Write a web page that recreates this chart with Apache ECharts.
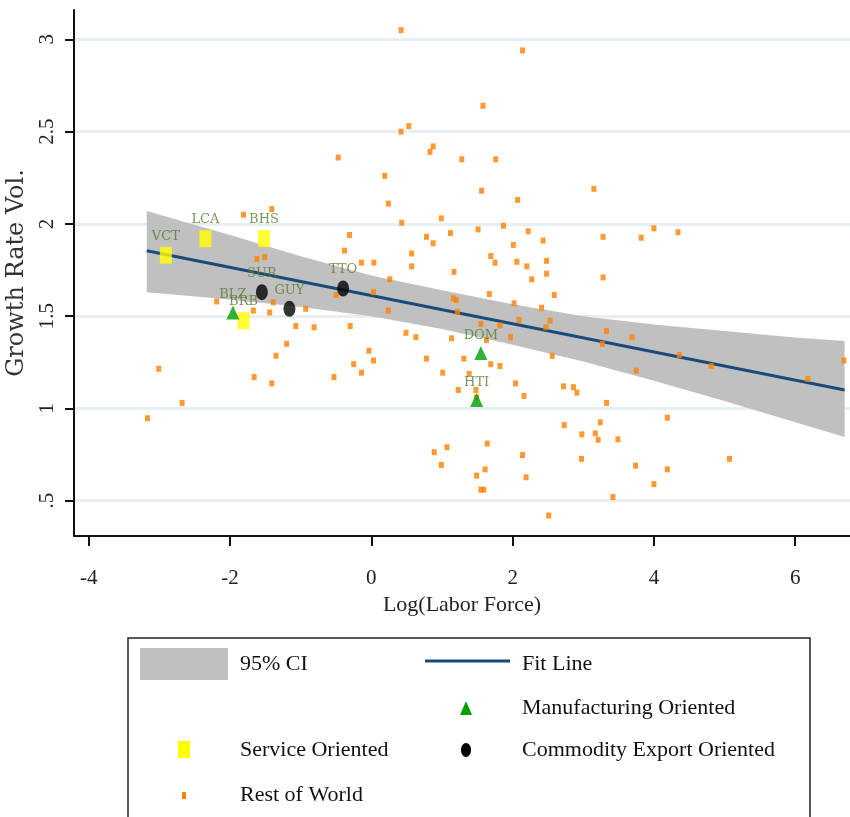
<!DOCTYPE html>
<html>
<head>
<meta charset="utf-8">
<title>Growth Rate Vol. vs Log(Labor Force)</title>
<script src="https://cdn.jsdelivr.net/npm/echarts@6.0.0/dist/echarts.min.js"></script>
<style>
  html, body { margin: 0; padding: 0; background: #fff; }
  #main { width: 850px; height: 817px; }
</style>
</head>
<body>
<div id="main"></div>
<script>
// axis ticks
const xTicks = [-4, -2, 0, 2, 4, 6];
const yTicks = [0.5, 1, 1.5, 2, 2.5, 3];

// rest of world (log labor force, growth rate vol.)
const restX = [-0.47, -1.41, -1.81, -0.31, -0.38, -1.62, -1.51, -0.14, 0.035, -2.19,
  -1.39, -1.67, -1.44, -0.93, -0.50, 0.03, -1.07, -0.81, -0.30, -1.20,
  -1.35, -0.035, 0.03, -0.25, -0.14, -0.53, -1.66, -1.41, -3.01, -2.68,
  -3.17, 0.42, 2.14, 1.58, 0.42, 0.53, 0.875, 0.83, 1.28, 1.76,
  0.19, 1.56, 3.15, 0.24, 2.07, 0.43, 0.99, 1.12, 1.51, 1.87,
  2.22, 2.43, 3.28, 3.82, 4.0, 0.78, 0.875, 2.01, 0.57, 0.57,
  1.69, 1.75, 2.06, 2.48, 2.20, 4.34, 0.26, 1.17, 2.27, 2.48,
  3.28, 1.16, 1.20, 1.67, 2.59, 0.24, 1.22, 2.02, 2.41, 1.55,
  1.82, 2.09, 2.47, 2.53, 3.33, 3.69, 3.27, 0.49, 0.63, 1.135,
  1.63, 1.97, 0.78, 1.31, 1.69, 1.82, 2.56, 1.01, 1.385, 3.75,
  1.23, 1.48, 2.04, 2.16, 2.72, 2.86, 2.91, 3.33, 4.19, 2.73,
  2.98, 3.17, 3.24, 3.21, 3.49, 0.89, 1.07, 1.64, 0.99, 2.14,
  2.975, 3.74, 4.19, 1.61, 1.49, 2.19, 1.55, 1.59, 4.0, 3.42,
  2.51, 4.36, 4.81, 6.18, 6.69, 5.07, 1.49];
const restY = [2.36, 2.08, 2.05, 1.94, 1.855, 1.81, 1.82, 1.79, 1.79, 1.58,
  1.575, 1.53, 1.52, 1.54, 1.615, 1.63, 1.447, 1.44, 1.447, 1.35,
  1.286, 1.313, 1.26, 1.24, 1.194, 1.17, 1.17, 1.136, 1.215, 1.03,
  0.947, 3.05, 2.94, 2.64, 2.50, 2.53, 2.42, 2.39, 2.35, 2.35,
  2.26, 2.18, 2.19, 2.11, 2.13, 2.006, 2.03, 1.95, 1.97, 1.99,
  1.96, 1.91, 1.93, 1.925, 1.976, 1.93, 1.895, 1.886, 1.84, 1.77,
  1.826, 1.79, 1.795, 1.80, 1.77, 1.955, 1.70, 1.74, 1.70, 1.73,
  1.71, 1.597, 1.588, 1.62, 1.615, 1.53, 1.524, 1.57, 1.546, 1.458,
  1.45, 1.48, 1.44, 1.476, 1.42, 1.386, 1.35, 1.41, 1.386, 1.38,
  1.37, 1.386, 1.27, 1.27, 1.24, 1.23, 1.285, 1.194, 1.187, 1.205,
  1.10, 1.10, 1.136, 1.068, 1.12, 1.115, 1.086, 1.03, 0.95, 0.91,
  0.86, 0.865, 0.925, 0.83, 0.833, 0.763, 0.79, 0.81, 0.694, 0.748,
  0.727, 0.69, 0.67, 0.67, 0.636, 0.627, 0.56, 0.56, 0.59, 0.52,
  0.42, 1.29, 1.23, 1.16, 1.26, 0.727, 1.06];

// service oriented
const serviceNames = ['VCT', 'LCA', 'BHS', 'BRB'];
const serviceX = [-2.91, -2.35, -1.52, -1.81];
const serviceY = [1.83, 1.92, 1.92, 1.476];

// manufacturing oriented
const manufNames = ['BLZ', 'DOM', 'HTI'];
const manufX = [-1.96, 1.55, 1.49];
const manufY = [1.52, 1.30, 1.046];

// commodity export oriented
const commodNames = ['SUR', 'GUY', 'TTO'];
const commodX = [-1.55, -1.16, -0.40];
const commodY = [1.63, 1.54, 1.65];

// fit line and 95% CI band
const fitX = [-3.18, 6.70];
const fitY = [1.855, 1.10];
const ciX = [-3.18, -2, -1, 0, 1, 2, 3, 4, 5, 6, 6.70];
const ciUpper = [2.07, 1.94, 1.825, 1.72, 1.64, 1.565, 1.50, 1.455, 1.42, 1.385, 1.365];
const ciLower = [1.63, 1.59, 1.55, 1.50, 1.43, 1.345, 1.255, 1.15, 1.04, 0.925, 0.845];

const serif = 'Liberation Serif';
const wideSerif = 'DejaVu Serif';
const labelGreen = '#5a7a30';
const fitBlue = '#1a4a78';

const pairs = (xs, ys) => xs.map((x, i) => [x, ys[i]]);
const named = (names, xs, ys) => names.map((n, i) => ({ name: n, value: [xs[i], ys[i]] }));

// country code labels above the highlighted markers
const pointLabel = {
  show: true,
  position: 'top',
  distance: 4,
  formatter: '{b}',
  fontFamily: wideSerif,
  fontSize: 13,
  color: labelGreen
};

const chart = echarts.init(document.getElementById('main'), null, { renderer: 'canvas' });

const option = {
  backgroundColor: '#fff',
  animation: false,
  grid: { left: 74, right: 0, top: 10, bottom: 281, outerBoundsMode: 'none', containLabel: false },
  xAxis: {
    type: 'value',
    min: -4.21,
    max: 6.776,
    name: 'Log(Labor Force)',
    nameLocation: 'middle',
    nameGap: 56,
    nameTextStyle: { fontFamily: serif, fontSize: 22, color: '#222' },
    axisLine: { show: true, onZero: false, lineStyle: { color: '#111', width: 2 } },
    axisTick: { show: true, length: 10, customValues: xTicks, lineStyle: { color: '#111', width: 2 } },
    axisLabel: { customValues: xTicks, margin: 32, fontFamily: serif, fontSize: 21, color: '#222' },
    splitLine: { show: false }
  },
  yAxis: {
    type: 'value',
    min: 0.309,
    max: 3.159,
    name: 'Growth Rate Vol.',
    nameLocation: 'middle',
    nameGap: 41,
    nameTextStyle: { fontFamily: wideSerif, fontSize: 24, color: '#333' },
    axisLine: { show: true, onZero: false, lineStyle: { color: '#111', width: 2 } },
    axisTick: { show: true, length: 9, customValues: yTicks, lineStyle: { color: '#111', width: 2 } },
    axisLabel: {
      customValues: yTicks,
      rotate: 90,
      margin: 16,
      fontFamily: serif,
      fontSize: 21,
      color: '#222',
      formatter: v => String(v).replace(/^0\./, '.')
    },
    splitLine: { show: true, lineStyle: { color: '#e6eff1', width: 3 } }
  },
  series: [
    {
      name: '95% CI',
      type: 'custom',
      silent: true,
      clip: true,
      z: 1,
      data: [[ciX[0], ciUpper[0]]],
      renderItem: (params, api) => {
        const pts = [];
        for (let i = 0; i < ciX.length; i++) pts.push(api.coord([ciX[i], ciUpper[i]]));
        for (let i = ciX.length - 1; i >= 0; i--) pts.push(api.coord([ciX[i], ciLower[i]]));
        return { type: 'polygon', shape: { points: pts }, style: { fill: '#c0c0c0' } };
      }
    },
    {
      name: 'Fit Line',
      type: 'line',
      z: 2,
      silent: true,
      symbol: 'none',
      data: pairs(fitX, fitY),
      lineStyle: { color: fitBlue, width: 3 }
    },
    {
      name: 'Rest of World',
      type: 'scatter',
      z: 3,
      symbol: 'rect',
      symbolSize: [5, 6],
      itemStyle: { color: '#ff8000' },
      data: pairs(restX, restY)
    },
    {
      name: 'Service Oriented',
      type: 'scatter',
      z: 4,
      symbol: 'rect',
      symbolSize: [12, 17],
      itemStyle: { color: '#ffff00' },
      label: pointLabel,
      data: named(serviceNames, serviceX, serviceY)
    },
    {
      name: 'Manufacturing Oriented',
      type: 'scatter',
      z: 4,
      symbol: 'triangle',
      symbolSize: [13, 14],
      itemStyle: { color: '#00a000' },
      label: pointLabel,
      data: named(manufNames, manufX, manufY)
    },
    {
      name: 'Commodity Export Oriented',
      type: 'scatter',
      z: 4,
      symbol: 'path://M0,-1A1,1 0 1,1 0,1A1,1 0 1,1 0,-1Z',
      symbolSize: [12, 16],
      itemStyle: { color: '#000' },
      label: pointLabel,
      data: named(commodNames, commodX, commodY)
    }
  ],
  // legend box, laid out as in the original (two columns, one empty cell)
  graphic: [
    {
      type: 'group',
      children: [
        { type: 'rect', shape: { x: 128, y: 638, width: 682, height: 220 }, style: { fill: '#fff', stroke: '#222', lineWidth: 1.5 } },
        { type: 'rect', shape: { x: 140, y: 648, width: 88, height: 32 }, style: { fill: '#c0c0c0' } },
        { type: 'text', x: 240, y: 664, style: { text: '95% CI', font: '22px "Liberation Serif"', fill: '#111', verticalAlign: 'middle' } },
        { type: 'line', shape: { x1: 425, y1: 661, x2: 510, y2: 661 }, style: { stroke: fitBlue, lineWidth: 3 } },
        { type: 'text', x: 522, y: 664, style: { text: 'Fit Line', font: '22px "Liberation Serif"', fill: '#111', verticalAlign: 'middle' } },
        { type: 'polygon', shape: { points: [[466, 701], [460, 715], [472, 715]] }, style: { fill: '#00a000' } },
        { type: 'text', x: 522, y: 708, style: { text: 'Manufacturing Oriented', font: '22px "Liberation Serif"', fill: '#111', verticalAlign: 'middle' } },
        { type: 'rect', shape: { x: 178, y: 741, width: 12, height: 17 }, style: { fill: '#ffff00' } },
        { type: 'text', x: 240, y: 750, style: { text: 'Service Oriented', font: '22px "Liberation Serif"', fill: '#111', verticalAlign: 'middle' } },
        { type: 'ellipse', shape: { cx: 466, cy: 750, rx: 5, ry: 7 }, style: { fill: '#000' } },
        { type: 'text', x: 522, y: 750, style: { text: 'Commodity Export Oriented', font: '22px "Liberation Serif"', fill: '#111', verticalAlign: 'middle' } },
        { type: 'rect', shape: { x: 182, y: 792, width: 4, height: 7 }, style: { fill: '#ff8000' } },
        { type: 'text', x: 240, y: 795, style: { text: 'Rest of World', font: '22px "Liberation Serif"', fill: '#111', verticalAlign: 'middle' } }
      ]
    }
  ]
};

chart.setOption(option);
</script>
</body>
</html>
